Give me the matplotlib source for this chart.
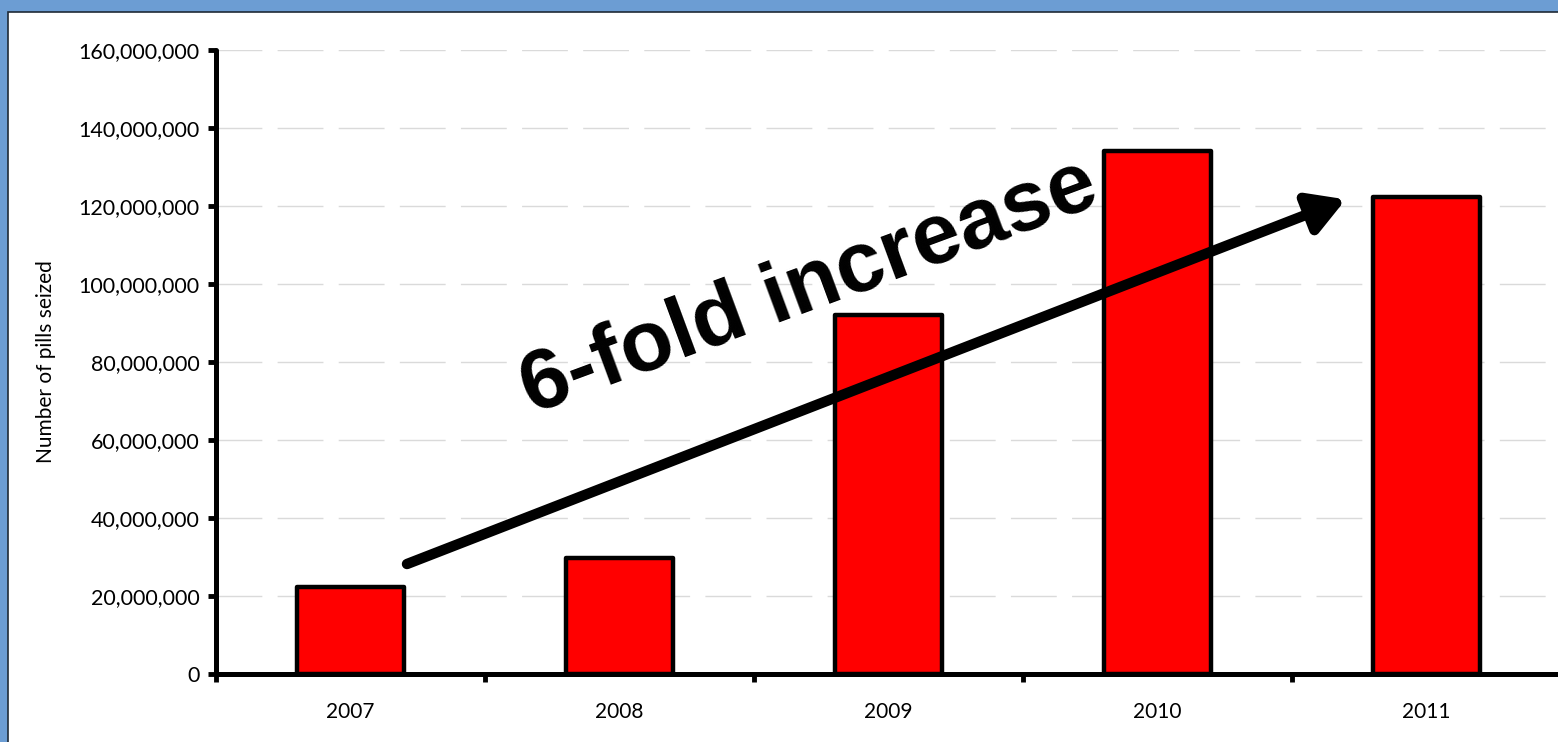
import matplotlib
matplotlib.use("Agg")
import matplotlib.pyplot as plt
from matplotlib.patches import Rectangle, FancyArrowPatch

years = ["2007", "2008", "2009", "2010", "2011"]
pills_seized = [22300000, 29700000, 92100000, 134100000, 122300000]
y_ticks = [0, 20000000, 40000000, 60000000, 80000000, 100000000,
           120000000, 140000000, 160000000]
annotation = "6-fold increase"

plt.rcParams["font.family"] = ["Lato", "DejaVu Sans"]

fig = plt.figure(figsize=(15.58, 7.42), dpi=100)
fig.patch.set_facecolor("#6C9DD3")

# white panel inside the blue frame
panel = Rectangle((8 / 1558, -0.01), 1.02, 1 - 12 / 742 + 0.01,
                  transform=fig.transFigure, facecolor="white",
                  edgecolor="#1F2A36", linewidth=1.2, zorder=-5)
fig.patches.append(panel)

ax = fig.add_axes([216 / 1558, 1 - 674 / 742, (1561 - 216) / 1558, 624 / 742])
ax.set_facecolor("none")
ax.set_zorder(1)

x = list(range(len(years)))
ax.bar(x, pills_seized, width=0.4, color="#FF0000", edgecolor="black",
       linewidth=3.2, joinstyle="round", zorder=3)

ax.set_xlim(-0.5, len(years) - 0.5)
ax.set_ylim(0, 160000000)
ax.set_yticks(y_ticks)
ax.set_yticklabels([f"{v:,}" for v in y_ticks], fontsize=15.5)
ax.set_xticks(x)
ax.set_xticklabels(years, fontsize=15)
ax.tick_params(axis="x", length=0, pad=20)
ax.tick_params(axis="y", length=6, width=3.5, pad=6, direction="out")
# boundary ticks between categories
ax.set_xticks([i - 0.5 for i in range(len(years) + 1)], minor=True)
ax.tick_params(axis="x", which="minor", length=6, width=3.5, direction="out")

for s in ["top", "right"]:
    ax.spines[s].set_visible(False)
for s in ["left", "bottom"]:
    ax.spines[s].set_linewidth(3.6)
    ax.spines[s].set_capstyle("round")

# light dashed horizontal guides
for v in y_ticks[1:]:
    ax.axhline(v, color="#DADADA", linewidth=1.0, dashes=(33, 11),
               dash_capstyle="butt", zorder=0)

ax.set_ylabel("Number of pills seized", fontsize=15, labelpad=16)

arrow = FancyArrowPatch((0.21, 28200000), (3.70, 121700000),
                        arrowstyle="-|>,head_length=1.35,head_width=0.78",
                        mutation_scale=16, linewidth=7.5, color="black",
                        zorder=5, shrinkA=0, shrinkB=0)
ax.add_patch(arrow)

ax.text(1.704, 99000000, annotation, fontsize=62, fontweight="bold",
        family=["Liberation Sans", "DejaVu Sans"], rotation=20.3,
        rotation_mode="anchor", ha="center", va="center", zorder=6)

fig.savefig("out.png", dpi=100, facecolor=fig.get_facecolor())
